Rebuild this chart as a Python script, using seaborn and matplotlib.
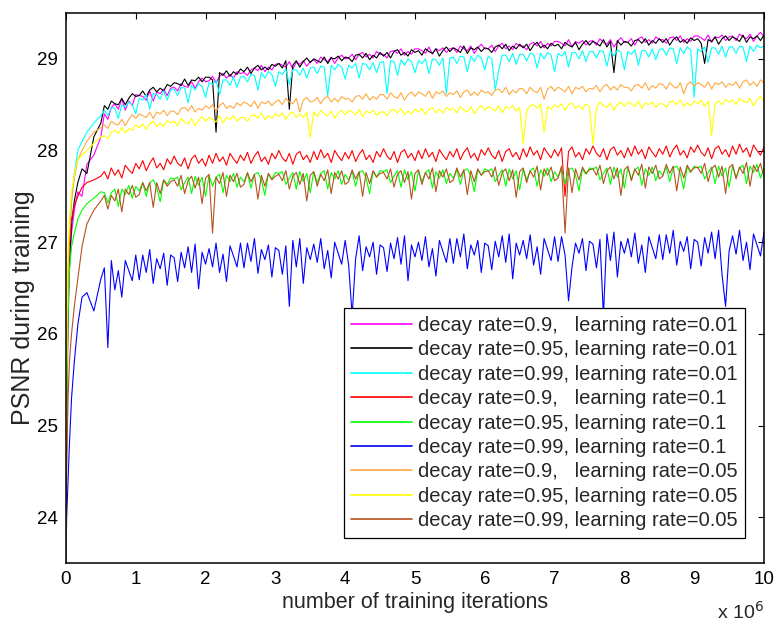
import numpy as np
import pandas as pd
import matplotlib
matplotlib.use('Agg')
import matplotlib.pyplot as plt
import seaborn as sns

# iterations (x 1e6): fine steps during the fast rise, then every 0.05e6
iters_early = [0, 0.01, 0.03, 0.05, 0.08, 0.12, 0.17, 0.23, 0.3, 0.4, 0.5]
iters_main = [round(0.55 + 0.05 * i, 2) for i in range(190)]
iterations = [v * 1e6 for v in iters_early + iters_main]

labels = [
    'decay rate=0.9,   learning rate=0.01',
    'decay rate=0.95, learning rate=0.01',
    'decay rate=0.99, learning rate=0.01',
    'decay rate=0.9,   learning rate=0.1',
    'decay rate=0.95, learning rate=0.1',
    'decay rate=0.99, learning rate=0.1',
    'decay rate=0.9,   learning rate=0.05',
    'decay rate=0.95, learning rate=0.05',
    'decay rate=0.99, learning rate=0.05',
]
colors = ['#ff00ff', '#000000', '#00ffff', '#ff0000', '#00ff00',
          '#0000ff', '#ffaa40', '#ffff00', '#b5521f']

# PSNR values (one row = 0.5e6 iterations)
psnr_d90_lr001 = [
    23.5, 25.0, 26.1, 26.7, 27.1, 27.35, 27.55, 27.5, 27.85, 27.95, 28.15,
    28.40, 28.34, 28.47, 28.51, 28.45, 28.56, 28.44, 28.54, 28.49, 28.61,
    28.60, 28.59, 28.55, 28.65, 28.54, 28.64, 28.62, 28.67, 28.60, 28.68,
    28.69, 28.65, 28.73, 28.70, 28.69, 28.75, 28.68, 28.75, 28.79, 28.75,
    28.76, 28.81, 28.74, 28.81, 28.84, 28.79, 28.83, 28.79, 28.86, 28.84,
    28.85, 28.82, 28.88, 28.90, 28.87, 28.93, 28.86, 28.91, 28.88, 28.94,
    28.95, 28.93, 28.91, 28.97, 28.89, 28.96, 28.94, 28.98, 28.92, 28.97,
    28.99, 28.95, 29.02, 28.99, 28.97, 29.02, 28.95, 29.01, 29.04, 29.00,
    29.01, 29.05, 28.99, 29.05, 29.07, 29.02, 29.05, 29.01, 29.08, 29.05,
    29.05, 29.01, 29.08, 29.09, 29.06, 29.11, 29.04, 29.08, 29.05, 29.11,
    29.11, 29.09, 29.06, 29.13, 29.05, 29.11, 29.09, 29.12, 29.07, 29.11,
    29.12, 29.07, 29.14, 29.11, 29.09, 29.14, 29.06, 29.12, 29.16, 29.11,
    29.11, 29.15, 29.08, 29.14, 29.17, 29.11, 29.14, 29.10, 29.17, 29.14,
    29.14, 29.10, 29.16, 29.18, 29.14, 29.19, 29.12, 29.17, 29.14, 29.19,
    29.19, 29.17, 29.14, 29.21, 29.13, 29.19, 29.17, 29.20, 29.15, 29.19,
    29.20, 29.15, 29.22, 29.18, 29.16, 29.21, 29.13, 29.19, 29.23, 29.18,
    29.18, 29.22, 29.15, 29.22, 29.24, 29.18, 29.21, 29.17, 29.24, 29.21,
    29.21, 29.17, 29.23, 29.24, 29.20, 29.25, 29.18, 29.22, 29.19, 29.25,
    29.25, 29.23, 29.20, 29.26, 29.18, 29.24, 29.23, 29.26, 29.20, 29.24,
    29.25, 29.20, 29.27, 29.24, 29.22, 29.27, 29.19, 29.25, 29.29, 29.24,
]
psnr_d95_lr001 = [
    23.5, 25.2, 26.3, 26.8, 27.2, 27.45, 27.65, 27.8, 27.75, 28.15, 28.3,
    28.49, 28.45, 28.54, 28.51, 28.50, 28.57, 28.50, 28.57, 28.62, 28.59,
    28.60, 28.65, 28.59, 28.66, 28.69, 28.64, 28.68, 28.65, 28.72, 28.70,
    28.74, 28.73, 28.71, 28.78, 28.71, 28.77, 28.76, 28.80, 28.75, 28.80,
    28.80, 28.77, 28.20, 28.85, 28.82, 28.87, 28.81, 28.86, 28.83, 28.89,
    28.86, 28.91, 28.84, 28.90, 28.93, 28.88, 28.91, 28.88, 28.94, 28.92,
    28.95, 28.90, 28.98, 28.45, 28.93, 28.98, 28.91, 28.97, 29.01, 28.96,
    29.00, 28.98, 28.96, 29.02, 28.95, 29.01, 29.00, 29.03, 28.98, 29.02,
    29.01, 28.97, 29.04, 29.05, 29.01, 29.06, 28.99, 29.04, 29.01, 29.07,
    29.03, 29.07, 29.01, 29.08, 29.10, 29.04, 29.07, 29.03, 29.10, 29.07,
    29.09, 29.04, 29.11, 29.08, 29.06, 29.11, 29.03, 29.09, 29.13, 29.08,
    29.12, 29.10, 29.07, 29.14, 29.06, 29.12, 29.10, 29.13, 29.08, 29.12,
    29.11, 29.07, 29.13, 29.15, 29.11, 29.16, 29.09, 29.14, 29.11, 29.16,
    29.12, 29.16, 29.09, 29.15, 29.18, 29.12, 29.15, 29.11, 29.17, 29.14,
    29.16, 29.11, 29.18, 29.15, 29.13, 29.18, 29.10, 29.16, 29.20, 29.15,
    29.19, 29.17, 29.14, 29.21, 29.13, 29.19, 28.85, 29.20, 29.15, 29.19,
    29.18, 29.14, 29.20, 29.21, 29.17, 29.22, 29.15, 29.20, 29.17, 29.22,
    29.18, 29.22, 29.15, 29.21, 29.24, 29.18, 29.21, 29.17, 29.23, 29.20,
    29.22, 29.17, 28.95, 29.21, 29.19, 29.24, 29.16, 29.22, 29.25, 29.20,
    29.24, 29.22, 29.19, 29.26, 29.18, 29.24, 29.22, 29.25, 29.20, 29.26,
]
psnr_d99_lr001 = [
    23.5, 25.5, 26.6, 27.0, 27.45, 27.75, 28.0, 28.1, 28.2, 28.3, 28.38,
    28.44, 28.38, 28.47, 28.46, 28.35, 28.50, 28.47, 28.53, 28.50, 28.40,
    28.57, 28.55, 28.61, 28.45, 28.62, 28.61, 28.56, 28.65, 28.55, 28.66,
    28.67, 28.60, 28.69, 28.68, 28.52, 28.71, 28.66, 28.73, 28.70, 28.58,
    28.74, 28.72, 28.77, 28.61, 28.77, 28.77, 28.71, 28.80, 28.69, 28.80,
    28.81, 28.75, 28.83, 28.82, 28.66, 28.85, 28.79, 28.86, 28.83, 28.70,
    28.86, 28.83, 28.89, 28.72, 28.88, 28.88, 28.82, 28.90, 28.79, 28.90,
    28.91, 28.84, 28.92, 28.91, 28.60, 28.93, 28.88, 28.94, 28.91, 28.78,
    28.93, 28.90, 28.95, 28.79, 28.95, 28.94, 28.88, 28.96, 28.85, 28.96,
    28.97, 28.62, 28.98, 28.97, 28.82, 28.99, 28.93, 29.00, 28.97, 28.85,
    28.98, 28.95, 29.00, 28.84, 29.00, 28.99, 28.93, 29.01, 28.62, 29.01,
    29.02, 28.95, 29.03, 29.02, 28.86, 29.03, 28.97, 29.04, 29.01, 28.88,
    29.03, 29.00, 28.66, 28.88, 29.04, 29.04, 28.97, 29.06, 28.94, 29.05,
    29.05, 28.98, 29.06, 29.05, 28.90, 29.06, 29.00, 29.07, 29.04, 28.86,
    29.06, 29.03, 29.08, 28.91, 29.07, 29.07, 29.00, 29.09, 28.97, 29.08,
    29.08, 29.01, 29.09, 29.08, 28.92, 29.09, 29.03, 29.10, 29.07, 28.88,
    29.08, 29.05, 29.10, 28.93, 29.09, 29.09, 29.02, 29.11, 28.99, 29.10,
    29.11, 29.04, 29.12, 29.11, 28.95, 29.12, 29.06, 29.13, 29.10, 28.58,
    29.11, 29.08, 29.13, 28.96, 29.12, 29.12, 29.05, 29.14, 29.02, 29.13,
    29.13, 29.06, 29.14, 29.13, 28.97, 29.14, 29.08, 29.15, 29.12, 29.14,
]
psnr_d90_lr01 = [
    23.5, 25.5, 26.6, 27.0, 27.25, 27.4, 27.5, 27.6, 27.65, 27.68, 27.72,
    27.77, 27.69, 27.81, 27.73, 27.79, 27.70, 27.84, 27.79, 27.75, 27.86,
    27.80, 27.89, 27.78, 27.86, 27.92, 27.81, 27.86, 27.79, 27.91, 27.85,
    27.94, 27.86, 27.83, 27.92, 27.80, 27.91, 27.95, 27.86, 27.91, 27.83,
    27.95, 27.86, 27.97, 27.88, 27.93, 27.84, 27.97, 27.91, 27.86, 27.95,
    27.89, 27.98, 27.86, 27.94, 27.99, 27.88, 27.93, 27.85, 27.97, 27.91,
    28.00, 27.92, 27.88, 27.97, 27.85, 27.96, 27.99, 27.90, 27.95, 27.87,
    27.99, 27.90, 28.01, 27.92, 27.97, 27.87, 28.00, 27.94, 27.89, 27.98,
    27.91, 28.00, 27.88, 27.96, 28.01, 27.90, 27.95, 27.87, 27.99, 27.93,
    28.02, 27.94, 27.90, 27.99, 27.87, 27.98, 28.01, 27.92, 27.97, 27.89,
    28.00, 27.91, 28.02, 27.93, 27.98, 27.88, 28.01, 27.95, 27.90, 27.99,
    27.93, 28.02, 27.90, 27.98, 28.03, 27.92, 27.97, 27.89, 28.01, 27.95,
    28.03, 27.95, 27.91, 28.00, 27.88, 27.99, 28.02, 27.93, 27.98, 27.90,
    28.02, 27.93, 28.04, 27.95, 28.00, 27.90, 28.03, 27.97, 27.92, 28.01,
    27.94, 28.03, 27.50, 27.99, 28.04, 27.93, 27.98, 27.90, 28.02, 27.96,
    28.05, 27.97, 27.93, 28.02, 27.90, 28.01, 28.04, 27.95, 28.00, 27.92,
    28.03, 27.94, 28.05, 27.96, 28.01, 27.91, 28.04, 27.98, 27.93, 28.02,
    27.96, 28.05, 27.93, 28.01, 28.06, 27.95, 28.00, 27.92, 28.04, 27.98,
    28.06, 27.98, 27.94, 28.03, 27.91, 28.02, 28.05, 27.96, 28.01, 27.93,
    28.05, 27.96, 28.07, 27.98, 28.03, 27.93, 28.06, 28.00, 27.95, 28.04,
]
psnr_d95_lr01 = [
    23.5, 25.2, 26.2, 26.7, 26.95, 27.1, 27.25, 27.35, 27.42, 27.48, 27.55,
    27.54, 27.43, 27.54, 27.58, 27.39, 27.58, 27.52, 27.62, 27.48, 27.61,
    27.56, 27.65, 27.50, 27.65, 27.68, 27.60, 27.44, 27.68, 27.63, 27.70,
    27.69, 27.71, 27.57, 27.65, 27.71, 27.53, 27.72, 27.62, 27.71, 27.50,
    27.73, 27.61, 27.71, 27.74, 27.54, 27.73, 27.66, 27.75, 27.60, 27.71,
    27.66, 27.75, 27.59, 27.74, 27.76, 27.68, 27.51, 27.75, 27.69, 27.76,
    27.75, 27.77, 27.63, 27.70, 27.76, 27.58, 27.77, 27.66, 27.75, 27.54,
    27.77, 27.65, 27.75, 27.78, 27.58, 27.76, 27.69, 27.78, 27.63, 27.74,
    27.68, 27.77, 27.61, 27.76, 27.78, 27.70, 27.53, 27.77, 27.71, 27.78,
    27.77, 27.79, 27.65, 27.72, 27.78, 27.60, 27.79, 27.68, 27.77, 27.56,
    27.78, 27.66, 27.76, 27.79, 27.59, 27.77, 27.70, 27.79, 27.64, 27.75,
    27.70, 27.79, 27.63, 27.78, 27.80, 27.72, 27.55, 27.79, 27.73, 27.80,
    27.78, 27.80, 27.66, 27.73, 27.79, 27.61, 27.80, 27.69, 27.78, 27.57,
    27.80, 27.68, 27.78, 27.81, 27.61, 27.79, 27.72, 27.81, 27.66, 27.77,
    27.71, 27.80, 27.64, 27.79, 27.81, 27.73, 27.56, 27.80, 27.74, 27.81,
    27.80, 27.82, 27.68, 27.75, 27.81, 27.63, 27.82, 27.71, 27.80, 27.59,
    27.81, 27.69, 27.79, 27.82, 27.62, 27.80, 27.73, 27.82, 27.67, 27.78,
    27.73, 27.82, 27.66, 27.81, 27.83, 27.75, 27.58, 27.82, 27.76, 27.83,
    27.81, 27.83, 27.69, 27.76, 27.82, 27.64, 27.83, 27.72, 27.81, 27.60,
    27.83, 27.71, 27.81, 27.84, 27.64, 27.83, 27.76, 27.85, 27.70, 27.81,
]
psnr_d99_lr01 = [
    23.5, 24.0, 24.4, 24.8, 25.3, 25.7, 26.1, 26.4, 26.45, 26.25, 26.6,
    26.72, 25.85, 26.80, 26.48, 26.69, 26.40, 26.80, 26.69, 26.58, 26.86,
    26.59, 26.86, 26.67, 26.92, 26.55, 26.82, 26.71, 26.88, 26.53, 26.86,
    26.83, 26.57, 26.89, 26.72, 26.95, 26.67, 26.98, 26.49, 26.89, 26.76,
    26.93, 26.73, 26.99, 26.67, 26.87, 26.57, 26.96, 26.85, 26.73, 26.99,
    26.72, 26.99, 26.79, 27.04, 26.66, 26.92, 26.81, 26.97, 26.62, 26.94,
    26.91, 26.65, 26.96, 26.30, 27.02, 26.73, 27.04, 26.55, 26.94, 26.81,
    26.98, 26.78, 27.04, 26.71, 26.91, 26.61, 27.00, 26.88, 26.76, 27.02,
    26.75, 26.20, 26.82, 27.07, 26.69, 26.95, 26.84, 27.00, 26.65, 26.97,
    26.94, 26.68, 26.99, 26.82, 27.05, 26.76, 27.07, 26.58, 26.97, 26.84,
    27.00, 26.80, 27.06, 26.73, 26.93, 26.63, 27.02, 26.90, 26.78, 27.04,
    26.77, 27.04, 26.84, 27.09, 26.71, 26.97, 26.86, 27.02, 26.67, 26.99,
    26.96, 26.70, 27.01, 26.84, 27.07, 26.78, 27.09, 26.60, 26.99, 26.86,
    27.02, 26.82, 27.08, 26.75, 26.95, 26.65, 27.04, 26.92, 26.80, 27.06,
    26.79, 27.06, 26.86, 26.36, 26.73, 26.99, 26.88, 27.04, 26.69, 27.01,
    26.98, 26.72, 27.03, 26.20, 27.09, 26.80, 27.11, 26.62, 27.01, 26.88,
    27.04, 26.84, 27.10, 26.77, 26.97, 26.67, 27.06, 26.94, 26.82, 27.08,
    26.81, 27.08, 26.88, 27.13, 26.75, 27.01, 26.90, 27.06, 26.71, 27.03,
    27.00, 26.74, 27.05, 26.88, 27.11, 26.82, 27.13, 26.64, 26.30, 26.90,
    27.07, 26.87, 27.13, 26.80, 27.00, 26.70, 27.09, 26.97, 26.85, 27.11,
]
psnr_d90_lr005 = [
    23.5, 25.6, 26.7, 27.1, 27.45, 27.7, 27.9, 28.0, 28.1, 28.2, 28.25,
    28.28, 28.24, 28.32, 28.29, 28.28, 28.34, 28.27, 28.34, 28.39, 28.35,
    28.40, 28.38, 28.36, 28.42, 28.35, 28.42, 28.40, 28.44, 28.38, 28.43,
    28.43, 28.39, 28.46, 28.47, 28.43, 28.49, 28.42, 28.46, 28.44, 28.49,
    28.46, 28.50, 28.43, 28.49, 28.52, 28.46, 28.49, 28.46, 28.52, 28.49,
    28.53, 28.51, 28.48, 28.54, 28.46, 28.53, 28.51, 28.54, 28.49, 28.53,
    28.55, 28.50, 28.57, 28.53, 28.51, 28.57, 28.42, 28.55, 28.58, 28.53,
    28.54, 28.58, 28.51, 28.57, 28.59, 28.53, 28.57, 28.53, 28.59, 28.56,
    28.57, 28.53, 28.59, 28.60, 28.56, 28.62, 28.55, 28.59, 28.56, 28.61,
    28.61, 28.56, 28.63, 28.59, 28.57, 28.63, 28.55, 28.61, 28.64, 28.59,
    28.64, 28.62, 28.59, 28.65, 28.57, 28.64, 28.62, 28.65, 28.59, 28.63,
    28.61, 28.65, 28.58, 28.64, 28.66, 28.60, 28.64, 28.60, 28.66, 28.63,
    28.64, 28.60, 28.66, 28.67, 28.63, 28.69, 28.61, 28.66, 28.63, 28.68,
    28.67, 28.62, 28.69, 28.65, 28.63, 28.69, 28.56, 28.67, 28.70, 28.65,
    28.69, 28.67, 28.64, 28.70, 28.62, 28.69, 28.67, 28.70, 28.64, 28.68,
    28.67, 28.71, 28.64, 28.70, 28.72, 28.66, 28.70, 28.66, 28.72, 28.69,
    28.69, 28.65, 28.71, 28.72, 28.68, 28.74, 28.66, 28.71, 28.68, 28.73,
    28.72, 28.67, 28.74, 28.70, 28.68, 28.74, 28.62, 28.72, 28.75, 28.70,
    28.74, 28.72, 28.69, 28.75, 28.67, 28.74, 28.72, 28.75, 28.69, 28.73,
    28.71, 28.75, 28.68, 28.75, 28.77, 28.71, 28.75, 28.70, 28.77, 28.74,
]
psnr_d95_lr005 = [
    23.5, 25.8, 26.9, 27.25, 27.55, 27.75, 27.9, 27.95, 28.0, 28.08, 28.15,
    28.16, 28.13, 28.20, 28.22, 28.19, 28.25, 28.19, 28.24, 28.22, 28.28,
    28.25, 28.29, 28.23, 28.29, 28.32, 28.26, 28.30, 28.26, 28.33, 28.30,
    28.32, 28.27, 28.35, 28.31, 28.29, 28.35, 28.27, 28.33, 28.37, 28.32,
    28.36, 28.34, 28.31, 28.38, 28.30, 28.36, 28.34, 28.38, 28.32, 28.36,
    28.36, 28.32, 28.38, 28.39, 28.35, 28.41, 28.34, 28.38, 28.35, 28.40,
    28.37, 28.41, 28.34, 28.40, 28.42, 28.36, 28.40, 28.36, 28.42, 28.14,
    28.42, 28.37, 28.44, 28.40, 28.38, 28.43, 28.35, 28.41, 28.44, 28.39,
    28.44, 28.42, 28.39, 28.45, 28.37, 28.43, 28.41, 28.44, 28.38, 28.42,
    28.42, 28.38, 28.44, 28.45, 28.41, 28.46, 28.39, 28.43, 28.40, 28.45,
    28.42, 28.46, 28.39, 28.45, 28.47, 28.41, 28.45, 28.41, 28.47, 28.44,
    28.46, 28.41, 28.48, 28.44, 28.42, 28.48, 28.40, 28.46, 28.49, 28.44,
    28.48, 28.46, 28.43, 28.49, 28.41, 28.48, 28.46, 28.49, 28.43, 28.47,
    28.07, 28.43, 28.49, 28.50, 28.46, 28.51, 28.20, 28.48, 28.45, 28.50,
    28.47, 28.51, 28.44, 28.50, 28.52, 28.46, 28.49, 28.45, 28.51, 28.48,
    28.07, 28.46, 28.53, 28.49, 28.47, 28.52, 28.44, 28.50, 28.53, 28.48,
    28.53, 28.51, 28.48, 28.54, 28.46, 28.52, 28.50, 28.53, 28.47, 28.51,
    28.51, 28.47, 28.53, 28.54, 28.50, 28.55, 28.48, 28.52, 28.49, 28.54,
    28.51, 28.55, 28.48, 28.54, 28.16, 28.51, 28.54, 28.50, 28.56, 28.53,
    28.55, 28.50, 28.57, 28.54, 28.52, 28.57, 28.49, 28.55, 28.59, 28.54,
]
psnr_d99_lr005 = [
    23.5, 24.5, 25.3, 25.7, 26.0, 26.3, 26.6, 26.95, 27.2, 27.35, 27.45,
    27.51, 27.36, 27.51, 27.45, 27.58, 27.33, 27.58, 27.52, 27.62, 27.49,
    27.52, 27.65, 27.56, 27.65, 27.38, 27.65, 27.53, 27.68, 27.61, 27.66,
    27.68, 27.61, 27.73, 27.53, 27.67, 27.72, 27.59, 27.71, 27.42, 27.70,
    27.74, 27.10, 27.71, 27.64, 27.76, 27.50, 27.73, 27.66, 27.75, 27.60,
    27.63, 27.76, 27.66, 27.74, 27.47, 27.73, 27.61, 27.75, 27.68, 27.72,
    27.74, 27.67, 27.78, 27.58, 27.72, 27.76, 27.63, 27.75, 27.45, 27.73,
    27.77, 27.61, 27.74, 27.67, 27.79, 27.53, 27.76, 27.69, 27.78, 27.63,
    27.66, 27.79, 27.69, 27.77, 27.50, 27.76, 27.64, 27.78, 27.71, 27.75,
    27.76, 27.69, 27.80, 27.60, 27.74, 27.78, 27.65, 27.77, 27.47, 27.75,
    27.79, 27.63, 27.76, 27.69, 27.81, 27.55, 27.78, 27.71, 27.80, 27.65,
    27.68, 27.81, 27.71, 27.79, 27.52, 27.78, 27.66, 27.80, 27.73, 27.77,
    27.78, 27.71, 27.82, 27.62, 27.76, 27.80, 27.67, 27.79, 27.49, 27.77,
    27.81, 27.65, 27.78, 27.71, 27.83, 27.57, 27.80, 27.73, 27.82, 27.67,
    27.70, 27.83, 27.10, 27.81, 27.54, 27.80, 27.68, 27.82, 27.75, 27.79,
    27.80, 27.73, 27.84, 27.64, 27.78, 27.82, 27.69, 27.81, 27.51, 27.79,
    27.83, 27.67, 27.80, 27.73, 27.85, 27.59, 27.82, 27.75, 27.84, 27.69,
    27.72, 27.85, 27.75, 27.83, 27.56, 27.82, 27.70, 27.84, 27.77, 27.81,
    27.82, 27.75, 27.86, 27.66, 27.80, 27.84, 27.71, 27.83, 27.53, 27.81,
    27.85, 27.69, 27.82, 27.75, 27.87, 27.61, 27.84, 27.77, 27.86, 27.71,
]

series = [psnr_d90_lr001, psnr_d95_lr001, psnr_d99_lr001,
          psnr_d90_lr01, psnr_d95_lr01, psnr_d99_lr01,
          psnr_d90_lr005, psnr_d95_lr005, psnr_d99_lr005]

xtick_vals = [0, 1, 2, 3, 4, 5, 6, 7, 8, 9, 10]
ytick_vals = [24, 25, 26, 27, 28, 29]

sns.set_theme(style='white')
plt.rcParams['font.family'] = ['Liberation Sans', 'DejaVu Sans']

fig = plt.figure(figsize=(7.76, 6.21), dpi=100)
ax = fig.add_axes([0.085, 0.0934, 0.8995, 0.8856])

for lab, col, vals in zip(labels, colors, series):
    df = pd.DataFrame({'iter': iterations, 'psnr': vals})
    sns.lineplot(data=df, x='iter', y='psnr', color=col, linewidth=0.8,
                 label=lab, ax=ax, estimator=None, sort=False)

ax.set_xlim(0, 1e7)
ax.set_ylim(23.5, 29.5)
ax.set_xticks([v * 1e6 for v in xtick_vals])
ax.set_xticklabels([str(v) for v in xtick_vals])
ax.set_yticks(ytick_vals)
ax.set_yticklabels([str(v) for v in ytick_vals])
ax.tick_params(direction='in', length=4, width=0.8, top=True, right=True,
               labelsize=13.5, colors='black', pad=6)
for sp in ax.spines.values():
    sp.set_visible(True)
    sp.set_color('black')
    sp.set_linewidth(1.1)

ax.set_xlabel('number of training iterations', fontsize=15.5, labelpad=3)
ax.set_ylabel('PSNR during training', fontsize=18)
ax.yaxis.set_label_coords(-0.044, 0.465)
fig.text(0.924, 0.004, r'x 10$^{6}$', fontsize=14)

leg = ax.legend(loc='lower right', bbox_to_anchor=(0.9728, 0.0455),
                borderaxespad=0, fontsize=14.5, handlelength=3.0,
                handletextpad=0.3, labelspacing=0.27, borderpad=0.38,
                fancybox=False, framealpha=1, edgecolor='black')
leg.get_frame().set_linewidth(0.9)
for h, c in zip(leg.get_lines(), colors):
    h.set_color(c)
    h.set_linewidth(1.2)

fig.savefig('out.png', dpi=100)
